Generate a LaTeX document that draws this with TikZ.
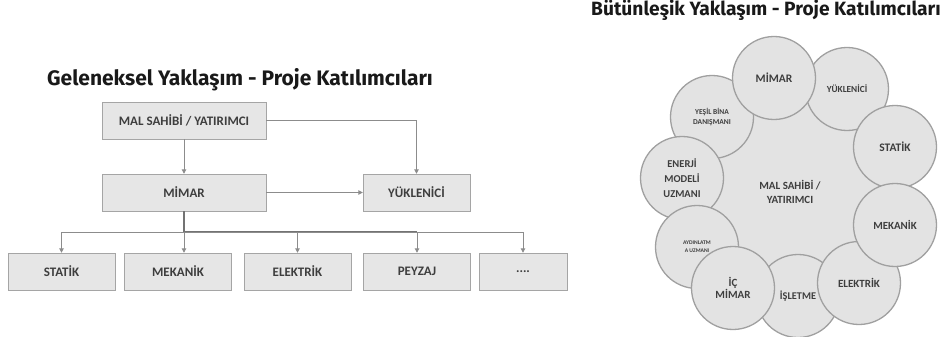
\documentclass[tikz,border=0pt]{standalone}
\usepackage{fontspec}
\setmainfont{Carlito}
\newfontfamily\titlefont{Fira Sans}
\usetikzlibrary{arrows.meta,shadows}

\definecolor{boxfill}{RGB}{230,230,230}
\definecolor{boxline}{RGB}{165,165,165}
\definecolor{labeltext}{RGB}{62,62,62}
\definecolor{linkgray}{RGB}{140,140,140}
\definecolor{ringfill}{RGB}{227,227,227}
\definecolor{ringline}{RGB}{160,160,160}

\begin{document}
\begin{tikzpicture}[
    x=1pt, y=-1pt,
    rolebox/.style={rectangle, draw=boxline, fill=boxfill, minimum width=107pt, minimum height=37pt, inner sep=0pt,
        font=\bfseries\fontsize{13}{15}\selectfont, text=labeltext,
        drop shadow={shadow xshift=0.8pt, shadow yshift=-1.2pt, fill=black!35, opacity=0.6}},
    widebox/.style={rolebox, minimum width=164pt},
    arrow/.style={-{Triangle[length=4.5pt,width=4.5pt]}, draw=linkgray, line width=0.9pt},
    stem/.style={draw=black!55, line width=1.5pt},
    ring/.style={circle, draw=ringline, line width=1.3pt, fill=ringfill, minimum size=83pt, inner sep=0pt, align=center, text=labeltext},
    ringtext/.style 2 args={font=\bfseries\fontsize{#1}{#2}\selectfont},
    heading/.style={anchor=base, text=black!90, font=\titlefont\bfseries\fontsize{#1}{#1}\selectfont}
]
    \useasboundingbox (0,0) rectangle (943,337);

    % titles
    \node[heading=21] (title-old) at (240,85) {Geleneksel Yaklaşım - Proje Katılımcıları};
    \node[heading=19.2] (title-new) at (766,16) {Bütünleşik Yaklaşım - Proje Katılımcıları};

    % traditional approach
    \node[widebox] (owner) at (184,120.5) {MAL SAHİBİ / YATIRIMCI};
    \node[widebox] (architect) at (184,192.5) {MİMAR};
    \node[rolebox] (contractor) at (416.5,192.5) {YÜKLENİCİ};

    \node[rolebox] (structural) at (61.5,271.5) {STATİK};
    \node[rolebox] (mechanical) at (178,271.5) {MEKANİK};
    \node[rolebox] (electrical) at (297.5,271.5) {ELEKTRİK};
    \node[rolebox] (landscape) at (417,271.5) {PEYZAJ};
    \node[rolebox, minimum width=88pt] (others) at (523,271.5) {....};

    \coordinate (bus) at (184,232);

    \draw[arrow] (owner) -- (architect);
    \draw[arrow] (owner.east) -| (contractor.north);
    \draw[arrow] (architect) -- (contractor);

    \draw[stem] (architect.south) -- (bus) -- (bus -| landscape.north);
    \draw[arrow] (bus) -| (structural.north);
    \draw[arrow] (bus) -- (bus |- mechanical.north);
    \draw[arrow] (bus) -| (electrical.north);
    \draw[arrow] (bus) -| (landscape.north);
    \draw[arrow] (bus) -| (others.north);

    % integrated approach
    \node[ring, minimum size=200pt, ringtext={11}{14}] (hub) at (790,192) {MAL SAHİBİ /\\YATIRIMCI};

    \node[ring, ringtext={10.3}{13}] (operation) at (798,296) {İŞLETME};
    \node[ring, ringtext={9.3}{11}] (builder) at (847,89) {YÜKLENİCİ};
    \node[ring, ringtext={7.5}{10}] (green) at (712,117) {YEŞİL BİNA\\DANIŞMANI};
    \node[ring, ringtext={10.5}{15}] (energy) at (682,178) {ENERJİ\\MODELİ\\UZMANI};
    \node[ring, ringtext={5.6}{8}] (lighting) at (697,247) {AYDINLATM\\A UZMANI};
    \node[ring, ringtext={11}{11.5}] (interior) at (733,288) {İÇ\\MİMAR};
    \node[ring, ringtext={11}{13}] (electric) at (859,283) {ELEKTRİK};
    \node[ring, ringtext={11.5}{13}] (static) at (895,147) {STATİK};
    \node[ring, ringtext={10.9}{13}] (mech) at (895,225) {MEKANİK};
    \node[ring, ringtext={11.5}{13}] (designer) at (774,78) {MİMAR};
\end{tikzpicture}
\end{document}
